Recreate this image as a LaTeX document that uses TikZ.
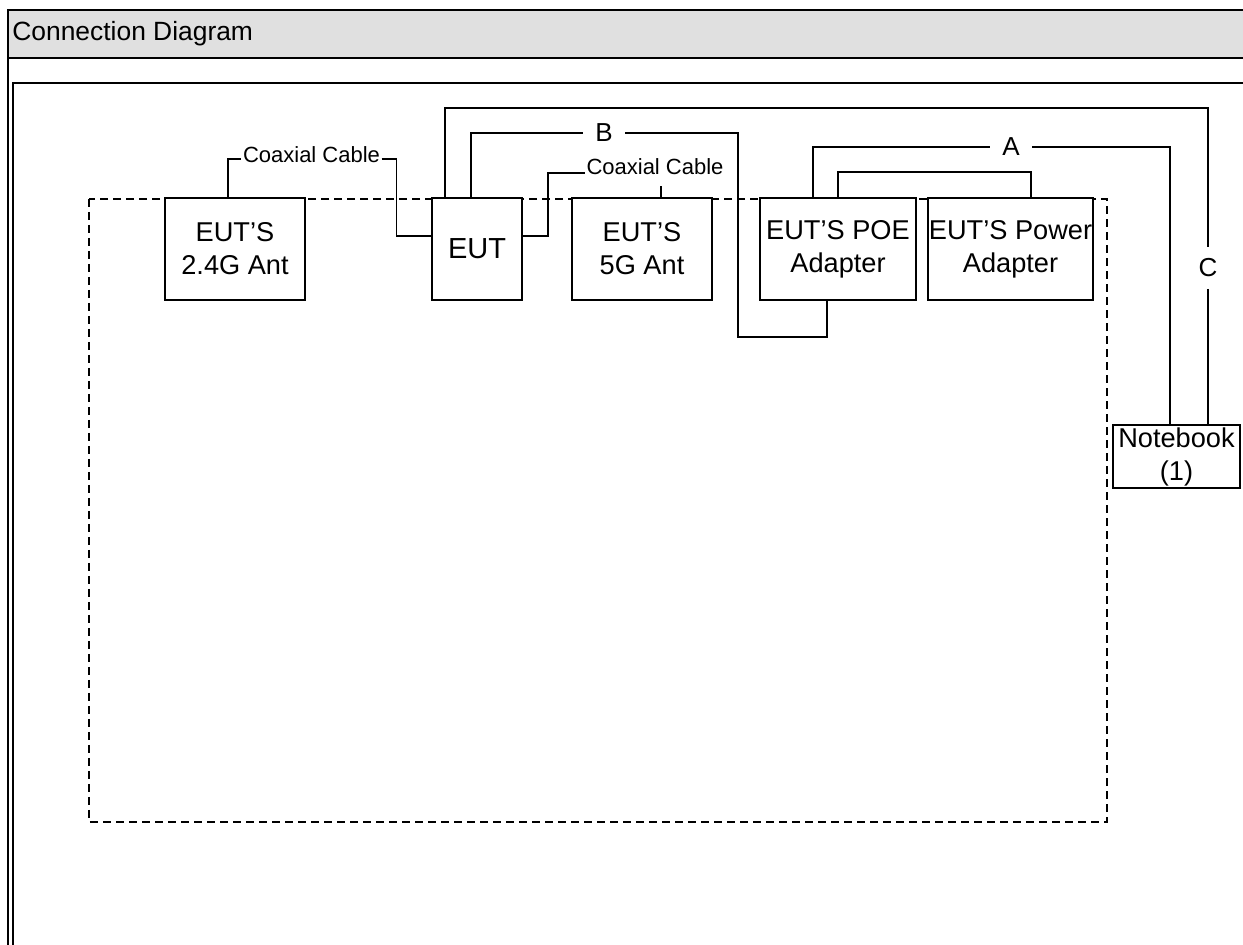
\documentclass[tikz,border=0pt]{standalone}
\usepackage{fontspec}
\setmainfont{Liberation Sans}
\usetikzlibrary{
    positioning,
    calc
}
\definecolor{headergray}{RGB}{224,224,224}
\tikzset{
    % --- Equipment box ---
    unit/.style = {
        rectangle, draw, line width=1pt, fill=white,
        minimum height=51pt, inner sep=0pt,
        font=\fontsize{13.6pt}{16.5pt}\selectfont, align=center
    },
    % --- Cable name on a wire ---
    cable/.style = {
        font=\fontsize{11pt}{13pt}\selectfont, inner sep=0.6pt
    },
    % --- Cable letter on a wire ---
    tag/.style = {
        font=\fontsize{13pt}{15pt}\selectfont,
        inner xsep=6.2pt, inner ysep=5.6pt
    },
    % --- Wire ---
    wire/.style = {
        line width=0.9pt
    },
    % --- Dashed test table boundary ---
    boundary/.style = {
        dashed, line width=1pt, dash pattern=on 4pt off 2.5pt
    },
    % --- Table frame ---
    frame/.style = {
        line width=1.4pt
    }
}

\begin{document}
\begin{tikzpicture}[x=0.5pt, y=-0.5pt]

\useasboundingbox (0,0) rectangle (1243,945);

% ---------------------------------------------------------
% Table header
% ---------------------------------------------------------
\fill[headergray] (8,10) rectangle (1243,58);
\draw[frame] (8,945) -- (8,10) -- (1243,10);
\draw[frame] (8,58) -- (1243,58);
\node[anchor=west, inner sep=0pt, font=\fontsize{13.2pt}{16pt}\selectfont]
    (Title) at (12,34) {Connection Diagram};
\draw[line width=1pt] (13,945) -- (13,83) -- (1243,83);

% ---------------------------------------------------------
% Boundary of the test table
% ---------------------------------------------------------
\draw[boundary] (89,199) rectangle (1107,822);

% ---------------------------------------------------------
% Equipment
% ---------------------------------------------------------
\node[unit, minimum width=70pt]   (Ant24) at (235,249)  {EUT'S\\2.4G Ant};
\node[unit, minimum width=45pt, font=\fontsize{14.5pt}{17pt}\selectfont]
                                  (EUT)   at (477,249)  {EUT};
\node[unit, minimum width=70pt]   (Ant5)  at (642,249)  {EUT'S\\5G Ant};
\node[unit, minimum width=78pt]   (POE)   at (838,249)  {EUT'S POE\\Adapter};
\node[unit, minimum width=82.5pt] (Pwr)   at (1010.5,249) {EUT'S Power\\Adapter};
\node[unit, minimum width=63.5pt, minimum height=31.5pt]
                                  (NB)    at (1176.5,456.5) {Notebook\\(1)};

% ---------------------------------------------------------
% Coaxial cables
% ---------------------------------------------------------
\node[cable] (CoaxA) at (311.5,155) {Coaxial Cable};
\draw[wire] ([xshift=-3.5pt]Ant24.north) |- ([yshift=-2pt]CoaxA.west);
\draw[wire] ([yshift=-2pt]CoaxA.east) -- ++(7.5pt,0) |- ([yshift=6.5pt]EUT.west);

\node[cable] (CoaxB) at (655,167) {Coaxial Cable};
\draw[wire] ([yshift=6.5pt]EUT.east) -- ++(12.5pt,0) |- ([yshift=-3pt]CoaxB.west);
\draw[wire] ([xshift=9.5pt]Ant5.north) -- ++(0,5.5pt);

% ---------------------------------------------------------
% Cable B: EUT to POE adapter
% ---------------------------------------------------------
\node[tag] (LblB) at (604,133) {B};
\coordinate (BendB) at (738,337);
\draw[wire] ([xshift=-3pt]EUT.north) |- (LblB.west);
\draw[wire] (LblB.east) -| (BendB) -| ([xshift=-5.5pt]POE.south);

% ---------------------------------------------------------
% Cable C: EUT to notebook
% ---------------------------------------------------------
\node[tag] (LblC) at (1208,268) {C};
\coordinate (CornerC) at (1208,108);
\draw[wire] ([xshift=-16pt]EUT.north) |- (CornerC) -- (LblC);
\draw[wire] (LblC) -- (LblC |- NB.north);

% ---------------------------------------------------------
% Cable A: POE adapter to notebook
% ---------------------------------------------------------
\node[tag] (LblA) at (1011,147) {A};
\draw[wire] ([xshift=-12.5pt]POE.north) |- (LblA.west);
\draw[wire] (LblA.east) -| ([xshift=-3.25pt]NB.north);

% ---------------------------------------------------------
% Power cable: POE adapter to power adapter
% ---------------------------------------------------------
\draw[wire] (POE.north) -- ++(0,12.5pt) -| ([xshift=10.25pt]Pwr.north);

\end{tikzpicture}
\end{document}
